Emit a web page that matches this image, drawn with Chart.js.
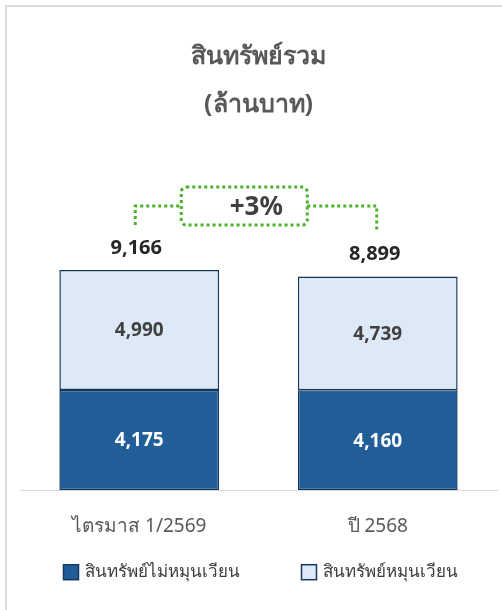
<!DOCTYPE html>
<html>
<head>
<meta charset="utf-8">
<script src="https://cdn.jsdelivr.net/npm/chart.js@4.4.1/dist/chart.umd.min.js"></script>
<style>
    body { margin: 0; background: #fff; }
    .wrap { position: relative; width: 502px; height: 610px; }
    .frame {
        position: absolute; left: 5px; top: 5px; right: 0; bottom: 0;
        border-left: 2px solid #dcdcdc; border-top: 2px solid #dcdcdc;
        pointer-events: none;
    }
    canvas { position: absolute; left: 0; top: 0; }
</style>
</head>
<body>
<div class="wrap">
    <canvas id="assetChart" width="502" height="610"></canvas>
    <div class="frame"></div>
</div>
<script>
// ข้อมูล (ล้านบาท)
const periods = ['ไตรมาส 1/2569', 'ปี 2568'];
const nonCurrentAssets = [4175, 4160];
const currentAssets = [4990, 4739];
const totalAssets = [9166, 8899];

const FONT = "'Noto Sans', 'DejaVu Sans', sans-serif";

// ตัวเลขในแท่ง + ยอดรวม + กรอบเปอร์เซ็นต์ + คำอธิบาย
const labelPlugin = {
    id: 'labelPlugin',
    afterDatasetsDraw(chart) {
        const ctx = chart.ctx;
        const x = chart.scales.x;
        const y = chart.scales.y;
        const area = chart.chartArea;
        ctx.save();
        ctx.textAlign = 'center';
        ctx.textBaseline = 'middle';
        ctx.font = 'bold 19px ' + FONT;

        chart.data.datasets.forEach((ds, di) => {
            const meta = chart.getDatasetMeta(di);
            meta.data.forEach((bar, i) => {
                ctx.fillStyle = di === 0 ? '#ffffff' : '#404040';
                const mid = (bar.y + bar.base) / 2;
                ctx.fillText(ds.data[i].toLocaleString('en-US'), bar.x, mid + 1);
            });
        });

        // ยอดรวม
        ctx.font = 'bold 20px ' + FONT;
        ctx.fillStyle = '#262626';
        const tops = [];
        totalAssets.forEach((t, i) => {
            const px = x.getPixelForValue(i);
            const top = y.getPixelForValue(nonCurrentAssets[i] + currentAssets[i]);
            tops.push(top);
            ctx.fillText(t.toLocaleString('en-US'), px - 3, top - 22);
        });

        // กรอบเปอร์เซ็นต์เปลี่ยนแปลง
        const lx = x.getPixelForValue(0) - 4;
        const rx = x.getPixelForValue(1) - 1;
        const lineY = Math.min(...tops) - 64;
        const boxL = lx + 46, boxR = lx + 172;
        const boxT = lineY - 19, boxB = lineY + 19;
        ctx.strokeStyle = '#4bb02a';
        ctx.lineWidth = 3;
        ctx.setLineDash([3, 3]);
        ctx.beginPath();
        ctx.moveTo(lx, tops[0] - 45);
        ctx.lineTo(lx, lineY);
        ctx.lineTo(boxL, lineY);
        ctx.moveTo(boxR, lineY);
        ctx.lineTo(rx, lineY);
        ctx.lineTo(rx, tops[1] - 44);
        ctx.stroke();
        ctx.beginPath();
        ctx.roundRect(boxL, boxT, boxR - boxL, boxB - boxT, 5);
        ctx.stroke();
        ctx.setLineDash([]);

        const pct = Math.round((totalAssets[0] - totalAssets[1]) / totalAssets[1] * 100);
        ctx.font = 'bold 26px ' + FONT;
        ctx.fillStyle = '#404040';
        ctx.fillText((pct >= 0 ? '+' : '') + pct + '%', boxL + 75, lineY + 2);

        // คำอธิบายสัญลักษณ์
        ctx.font = '17px ' + FONT;
        ctx.textAlign = 'left';
        const box = 15, gapText = 6, gapItem = 62;
        const widths = chart.data.datasets.map(ds => box + gapText + ctx.measureText(ds.label).width);
        const rowW = widths.reduce((a, b) => a + b, 0) + gapItem;
        let cx = (area.left + area.right) / 2 + 2 - rowW / 2;
        const ly = area.bottom + 82;
        chart.data.datasets.forEach((ds, di) => {
            ctx.fillStyle = ds.backgroundColor;
            ctx.fillRect(cx, ly - box / 2, box, box);
            ctx.strokeStyle = ds.borderColor;
            ctx.lineWidth = 1.5;
            ctx.strokeRect(cx, ly - box / 2, box, box);
            ctx.fillStyle = '#404040';
            ctx.fillText(ds.label, cx + box + gapText, ly);
            cx += widths[di] + gapItem;
        });
        ctx.restore();
    }
};

new Chart(document.getElementById('assetChart'), {
    type: 'bar',
    data: {
        labels: periods,
        datasets: [{
            label: 'สินทรัพย์ไม่หมุนเวียน',
            data: nonCurrentAssets,
            backgroundColor: '#215e99',
            borderColor: '#17375e',
            borderWidth: 1.5,
            borderSkipped: false
        }, {
            label: 'สินทรัพย์หมุนเวียน',
            data: currentAssets,
            backgroundColor: '#dde9f6',
            borderColor: '#17375e',
            borderWidth: 1.5,
            borderSkipped: false
        }]
    },
    options: {
        responsive: false,
        animation: false,
        layout: { padding: { left: 20, right: 5, bottom: 55 } },
        datasets: { bar: { categoryPercentage: 1, barPercentage: 0.67 } },
        scales: {
            x: {
                stacked: true,
                grid: { display: false },
                border: { display: true, color: '#d9d9d9', width: 1 },
                ticks: { color: '#595959', font: { family: FONT, size: 19 }, padding: 17 }
            },
            y: {
                stacked: true,
                display: false,
                min: 0,
                max: 12000
            }
        },
        plugins: {
            title: {
                display: true,
                text: ['สินทรัพย์รวม', '(ล้านบาท)'],
                color: '#595959',
                font: { family: FONT, size: 25, weight: 'bold', lineHeight: 1.92 },
                padding: { top: 33, bottom: 73 }
            },
            legend: { display: false },
            tooltip: { enabled: false }
        }
    },
    plugins: [labelPlugin]
});
</script>
</body>
</html>
